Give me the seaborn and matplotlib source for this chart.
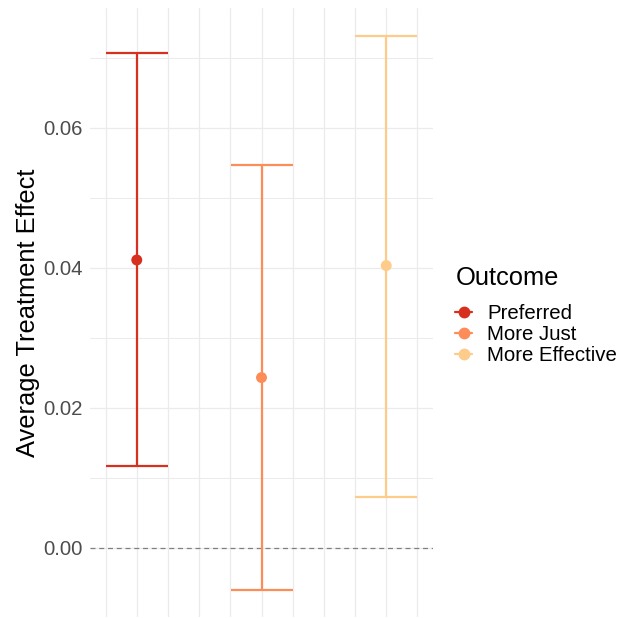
import numpy as np
import pandas as pd
import matplotlib.pyplot as plt
import seaborn as sns
from matplotlib.lines import Line2D

# Estimates
outcomes = ["Preferred", "More Just", "More Effective"]
estimate = [0.0411, 0.0243, 0.0403]
lower = [0.0117, -0.0060, 0.0073]
upper = [0.0707, 0.0546, 0.0731]
colors = ["#D7301F", "#FC8D59", "#FDCC8A"]

df = pd.DataFrame({"Outcome": outcomes, "ATE": estimate, "lo": lower, "hi": upper})
df["pos"] = np.arange(1, len(df) + 1)

sns.set_theme(style="white")
plt.rcParams["font.family"] = ["Liberation Sans", "DejaVu Sans"]
plt.rcParams["text.color"] = "black"
plt.rcParams["axes.labelcolor"] = "black"

fig = plt.figure(figsize=(6.27, 6.18), dpi=100)

# y limits with ggplot-style 5% expansion
lo_all, hi_all = min(lower), max(upper)
pad = 0.05 * (hi_all - lo_all)
ylim = (lo_all - pad, hi_all + pad)
xlim = (0.625, 3.375)

px_per_unit = 7000
top_px = 8.3
h_px = (ylim[1] - ylim[0]) * px_per_unit
ax = fig.add_axes([90 / 627, (618 - top_px - h_px) / 618, 343 / 627, h_px / 618])
ax.set_xlim(*xlim)
ax.set_ylim(*ylim)

# grid (major + minor) like theme_minimal
for gx in np.arange(0.75, 3.26, 0.25):
    ax.axvline(gx, color="#EBEBEB", lw=0.9, zorder=0)
for gy in np.arange(-0.01, 0.08, 0.01):
    major = abs(round(gy / 0.02) * 0.02 - gy) < 1e-9
    ax.axhline(gy, color="#EBEBEB", lw=0.9 if major else 0.7, zorder=0)

ax.axhline(0, color="#808080", lw=0.9, dashes=(4, 3), zorder=1)

# error bars
for i, row in df.iterrows():
    ax.errorbar(row["pos"], row["ATE"],
                yerr=[[row["ATE"] - row["lo"]], [row["hi"] - row["ATE"]]],
                fmt="none", ecolor=colors[i], elinewidth=1.6,
                capsize=22.3, capthick=1.6, zorder=2)

sns.scatterplot(data=df, x="pos", y="ATE", hue="Outcome", palette=colors,
                s=62, edgecolor="none", legend=False, ax=ax, zorder=3)

for s in ax.spines.values():
    s.set_visible(False)
ax.set_xticks([])
ax.set_yticks([0.0, 0.02, 0.04, 0.06])
ax.set_yticklabels(["0.00", "0.02", "0.04", "0.06"])
ax.tick_params(axis="y", labelsize=14.7, labelcolor="#4D4D4D", length=0, pad=5)
ax.set_xlabel("")
ax.set_ylabel("Average Treatment Effect", fontsize=18.4, labelpad=2.4)

handles = [Line2D([0], [0], color=c, lw=1.6, marker="o", markersize=7.5) for c in colors]
leg = fig.legend(handles, outcomes, title="Outcome", loc="upper left",
                 bbox_to_anchor=(437 / 627, 1 - 248 / 618), frameon=False,
                 fontsize=14.7, title_fontsize=18.4, handlelength=0.8,
                 handletextpad=0.75, labelspacing=0.1, alignment="left")
leg._legend_box.sep = 10

fig.savefig("out.png", dpi=100)
